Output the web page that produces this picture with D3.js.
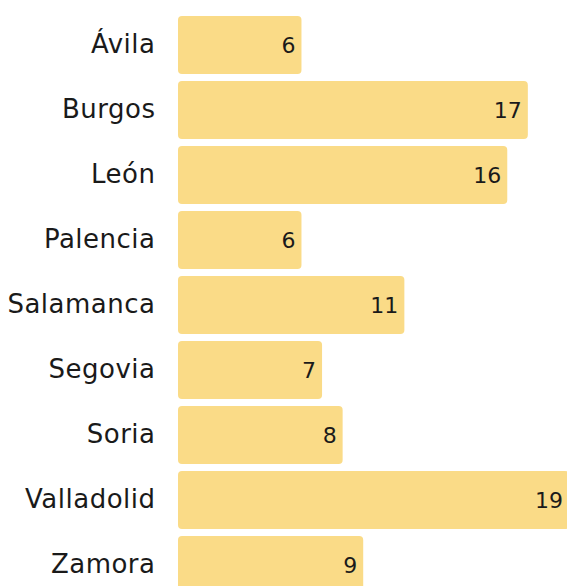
<!DOCTYPE html>
<html>
<head>
<meta charset="utf-8">
<script src="https://cdn.jsdelivr.net/npm/d3@7"></script>
<style>
  html, body { margin: 0; padding: 0; background: #fff; }
  svg { display: block; }
  text { font-family: "DejaVu Sans", "Noto Sans", sans-serif; }
</style>
</head>
<body>
<svg id="chart" width="567" height="586"></svg>
<script>
// Provincias de Castilla y León
const provincias = ["Ávila", "Burgos", "León", "Palencia", "Salamanca", "Segovia", "Soria", "Valladolid", "Zamora"];
const valores = [6, 17, 16, 6, 11, 7, 8, 19, 9];

const width = 567, height = 586;
const barLeft = 178;

const svg = d3.select("#chart");

const x = d3.scaleLinear()
  .domain([0, d3.max(valores)])
  .range([barLeft, 569]);

const pad = 7 / 65;
const y = d3.scaleBand()
  .domain(provincias)
  .range([12.5, 597.5])
  .paddingInner(pad)
  .paddingOuter(pad / 2);

const data = provincias.map((p, i) => ({ p, v: valores[i] }));

// Barras
svg.append("g")
  .selectAll("rect")
  .data(data)
  .join("rect")
  .attr("x", x(0))
  .attr("y", d => y(d.p))
  .attr("width", d => x(d.v) - x(0))
  .attr("height", y.bandwidth())
  .attr("rx", 4)
  .attr("fill", "#fadb87");

// Nombres de provincia
svg.append("g")
  .selectAll("text")
  .data(data)
  .join("text")
  .attr("x", 155.5)
  .attr("y", d => y(d.p) + y.bandwidth() / 2 + 8)
  .attr("text-anchor", "end")
  .attr("font-size", 26)
  .attr("letter-spacing", 0.5)
  .attr("fill", "#1a1a1a")
  .text(d => d.p);

// Valores dentro de la barra
svg.append("g")
  .selectAll("text")
  .data(data)
  .join("text")
  .attr("x", d => x(d.v) - 6)
  .attr("y", d => y(d.p) + y.bandwidth() / 2 + 8)
  .attr("text-anchor", "end")
  .attr("font-size", 22)
  .attr("fill", "#1a1a1a")
  .text(d => d.v);
</script>
</body>
</html>
